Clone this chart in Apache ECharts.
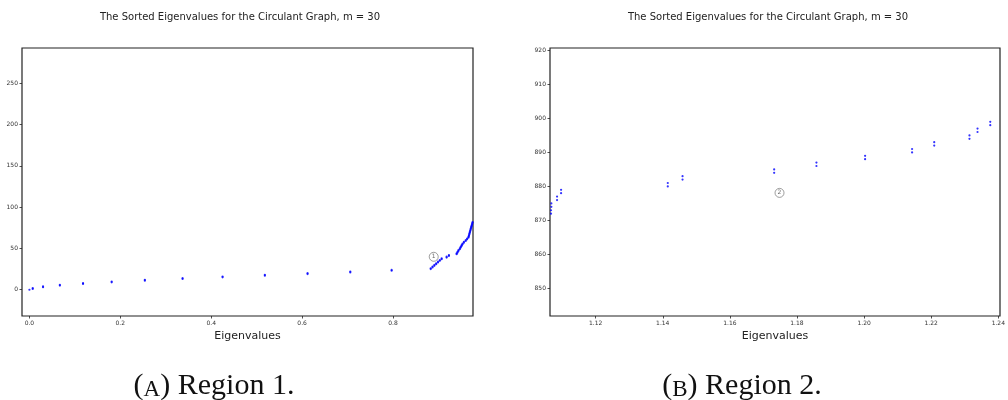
<!DOCTYPE html>
<html>
<head>
<meta charset="utf-8">
<script src="https://cdn.jsdelivr.net/npm/echarts@6/dist/echarts.min.js"></script>
<style>
  html, body { margin: 0; padding: 0; background: #fff; }
  #chart { width: 1008px; height: 400px; }
</style>
</head>
<body>
<div id="chart"></div>
<script>
var title = 'The Sorted Eigenvalues for the Circulant Graph, m = 30';

// region 1: eigenvalue (x) and its position in the sorted list (y)
var region1Eig = [
    0.000, 0.0073, 0.0073, 0.030, 0.030, 0.067, 0.067, 0.118, 0.118, 0.181, 0.181,
    0.254, 0.254, 0.337, 0.337, 0.425, 0.425, 0.518, 0.518, 0.612, 0.612,
    0.706, 0.706, 0.797, 0.797, 0.883, 0.883, 0.887, 0.887, 0.891, 0.891,
    0.895, 0.895, 0.899, 0.899, 0.903, 0.903, 0.907, 0.907, 0.918, 0.918,
    0.923, 0.923, 0.940, 0.940, 0.942, 0.942, 0.944, 0.944, 0.947, 0.947,
    0.949, 0.949, 0.951, 0.951, 0.953, 0.953, 0.956, 0.956, 0.960, 0.960,
    0.963, 0.963, 0.966, 0.966, 0.967, 0.967, 0.968, 0.968, 0.969, 0.969,
    0.970, 0.970, 0.971, 0.971, 0.972, 0.972, 0.973, 0.973, 0.974, 0.974,
    0.975, 0.975
];
var region1Idx = [
    0, 1, 2, 3, 4, 5, 6, 7, 8, 9, 10,
    11, 12, 13, 14, 15, 16, 17, 18, 19, 20,
    21, 22, 23, 24, 25, 26, 27, 28, 29, 30,
    31, 32, 33, 34, 35, 36, 37, 38, 39, 40,
    41, 42, 43, 44, 45, 46, 47, 48, 49, 50,
    51, 52, 53, 54, 55, 56, 57, 58, 59, 60,
    61, 62, 63, 64, 65, 66, 67, 68, 69, 70,
    71, 72, 73, 74, 75, 76, 77, 78, 79, 80,
    81, 82
];

// region 2
var region2Eig = [
    1.1067, 1.1067, 1.1068, 1.1068, 1.1085, 1.1085, 1.1097, 1.1097,
    1.1415, 1.1415, 1.1459, 1.1459, 1.1732, 1.1732, 1.1858, 1.1858,
    1.2003, 1.2003, 1.2143, 1.2143, 1.2209, 1.2209, 1.2314, 1.2314,
    1.2338, 1.2338, 1.2376, 1.2376
];
var region2Idx = [
    872, 873, 874, 875, 876, 877, 878, 879,
    880, 881, 882, 883, 884, 885, 886, 887,
    888, 889, 890, 891, 892, 893, 894, 895,
    896, 897, 898, 899
];

// circled markers
var mark1 = [0.8896, 39.9];
var mark2 = [1.1748, 878.1];

var xTicks1 = [0.0, 0.2, 0.4, 0.6, 0.8];
var yTicks1 = [0, 50, 100, 150, 200, 250];
var xTicks2 = [1.12, 1.14, 1.16, 1.18, 1.20, 1.22, 1.24];
var yTicks2 = [850, 860, 870, 880, 890, 900, 910, 920];

function pairs(xs, ys) {
    return xs.map(function(x, i) { return [x, ys[i]]; });
}

var chart = echarts.init(document.getElementById('chart'));

function xAxis(idx, min, max, ticks, digits) {
    return {
        type: 'value', gridIndex: idx, min: min, max: max,
        name: 'Eigenvalues', nameLocation: 'middle', nameGap: 7,
        nameTextStyle: { fontSize: 11, color: '#222', fontFamily: 'DejaVu Sans' },
        axisLine: { show: false, onZero: false },
        axisTick: { show: true, customValues: ticks, length: 2.5, lineStyle: { color: '#222', width: 0.8 } },
        axisLabel: {
            customValues: ticks, margin: 4, fontSize: 6, color: '#333', fontFamily: 'DejaVu Sans',
            formatter: function(v) { return v.toFixed(digits); }
        },
        splitLine: { show: false }
    };
}

function yAxis(idx, min, max, ticks) {
    return {
        type: 'value', gridIndex: idx, min: min, max: max,
        axisLine: { show: false, onZero: false },
        axisTick: { show: true, customValues: ticks, length: 2.5, lineStyle: { color: '#222', width: 0.8 } },
        axisLabel: {
            customValues: ticks, margin: 4, fontSize: 6, color: '#333', fontFamily: 'DejaVu Sans'
        },
        splitLine: { show: false }
    };
}

function circled(idx, pos, text) {
    return {
        type: 'scatter', xAxisIndex: idx, yAxisIndex: idx,
        symbol: 'circle', symbolSize: 9,
        itemStyle: { color: '#fff', borderColor: '#666', borderWidth: 0.8 },
        label: { show: true, position: 'inside', formatter: text, fontSize: 6, color: '#444', fontFamily: 'DejaVu Sans' },
        data: [pos], z: 3
    };
}

function caption(x, letter, text) {
    return {
        type: 'text', x: x, y: 386,
        style: {
            text: '{p|(}{sc|' + letter + '}{p|) ' + text + '}',
            align: 'center', verticalAlign: 'middle',
            rich: {
                p: { fontSize: 30, fontFamily: 'Liberation Serif', fill: '#111', verticalAlign: 'bottom' },
                sc: { fontSize: 23, fontFamily: 'Liberation Serif', fill: '#111', verticalAlign: 'bottom' }
            }
        }
    };
}

var option = {
    animation: false,
    backgroundColor: '#fff',
    grid: [
        { left: 22, top: 48, width: 451, height: 268, show: true, borderColor: '#222', borderWidth: 1.2, backgroundColor: 'transparent' },
        { left: 550, top: 48, width: 451, height: 268, show: true, borderColor: '#222', borderWidth: 1.2, backgroundColor: 'transparent' }
    ],
    xAxis: [
        xAxis(0, -0.0163, 0.976, xTicks1, 1),
        xAxis(1, 1.1064, 1.2405, xTicks2, 2)
    ],
    yAxis: [
        yAxis(0, -31.8, 292.7, yTicks1),
        yAxis(1, 841.9, 920.7, yTicks2)
    ],
    series: [
        {
            type: 'scatter', xAxisIndex: 0, yAxisIndex: 0,
            symbol: 'circle', symbolSize: 2.2,
            itemStyle: { color: '#0000ff' },
            data: pairs(region1Eig, region1Idx)
        },
        {
            type: 'scatter', xAxisIndex: 1, yAxisIndex: 1,
            symbol: 'circle', symbolSize: 2.2,
            itemStyle: { color: '#0000ff' },
            data: pairs(region2Eig, region2Idx)
        },
        circled(0, mark1, '1'),
        circled(1, mark2, '2')
    ],
    graphic: [
        { type: 'text', x: 240, y: 17, style: { text: title, align: 'center', verticalAlign: 'middle', font: '10px DejaVu Sans', fill: '#222' } },
        { type: 'text', x: 768, y: 17, style: { text: title, align: 'center', verticalAlign: 'middle', font: '10px DejaVu Sans', fill: '#222' } },
        caption(214, 'A', 'Region 1.'),
        caption(742, 'B', 'Region 2.')
    ]
};

chart.setOption(option);
</script>
</body>
</html>
